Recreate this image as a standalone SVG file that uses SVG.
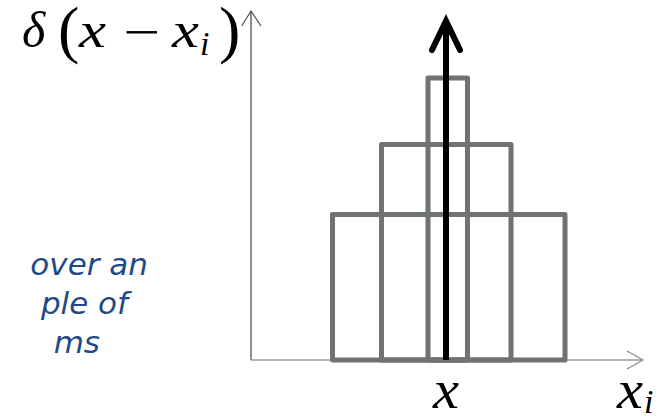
<svg xmlns="http://www.w3.org/2000/svg" width="662" height="416" viewBox="0 0 662 416">
<style>
.bar{fill:none;stroke:#6f7373;stroke-width:5;stroke-linejoin:round}
.m{font-family:"Liberation Serif","DejaVu Serif",serif;font-style:italic;fill:#000}
.r{font-family:"Liberation Serif","DejaVu Serif",serif;fill:#000}
.blue{font-family:"DejaVu Sans","Verdana",sans-serif;font-style:italic;fill:#1f4a85;font-size:31px}
</style>
<rect width="662" height="416" fill="#fff"/>
<g id="connectors">
<path d="M251,360 L251,11" stroke="#444" stroke-width="1.2" fill="none"/>
<path d="M241.7,26 L251,11 L261,26" stroke="#444" stroke-width="1.1" fill="none"/>
<path d="M251,360 L643,360" stroke="#9a9a9a" stroke-width="1.6" fill="none"/>
<path d="M627,351 L643,360 L627,369" stroke="#8a8a8a" stroke-width="1.2" fill="none"/>
</g>
<g id="bins">
<rect id="bin-wide" class="bar" x="332.5" y="214.5" width="232.5" height="145.5"/>
<rect id="bin-mid" class="bar" x="381.5" y="144.5" width="129.5" height="215.5"/>
<rect id="bin-narrow" class="bar" x="428" y="78" width="39.5" height="282"/>
</g>
<g id="delta-arrow">
<path d="M446,360 L446,24" stroke="#000" stroke-width="6" fill="none"/>
<path d="M432,50 L446,21 L460,50" stroke="#000" stroke-width="6" fill="none" stroke-linecap="round" stroke-linejoin="miter"/>
</g>
<g id="label-delta">
<text class="m" x="22" y="47" font-size="50">δ</text>
<text class="r" x="58" y="51" font-size="64">(</text>
<text class="m" x="79" y="47" font-size="50" textLength="27" lengthAdjust="spacingAndGlyphs">x</text>
<text class="r" x="123" y="49" font-size="50" textLength="37" lengthAdjust="spacingAndGlyphs">−</text>
<text class="m" x="172" y="47" font-size="50" textLength="27" lengthAdjust="spacingAndGlyphs">x</text>
<text class="m" x="200" y="55" font-size="34">i</text>
<text class="r" x="219" y="51" font-size="64">)</text>
</g>
<g id="label-x">
<text class="m" x="433" y="408" font-size="54" textLength="26" lengthAdjust="spacingAndGlyphs">x</text>
</g>
<g id="label-xi">
<text class="m" x="617" y="408" font-size="54" textLength="26" lengthAdjust="spacingAndGlyphs">x</text>
<text class="m" x="644" y="413" font-size="34">i</text>
</g>
<g id="caption">
<text class="blue" x="148" y="275" text-anchor="end">over an</text>
<text class="blue" x="128" y="314" text-anchor="end">ple of</text>
<text class="blue" x="100" y="353" text-anchor="end">ms</text>
</g>
</svg>
